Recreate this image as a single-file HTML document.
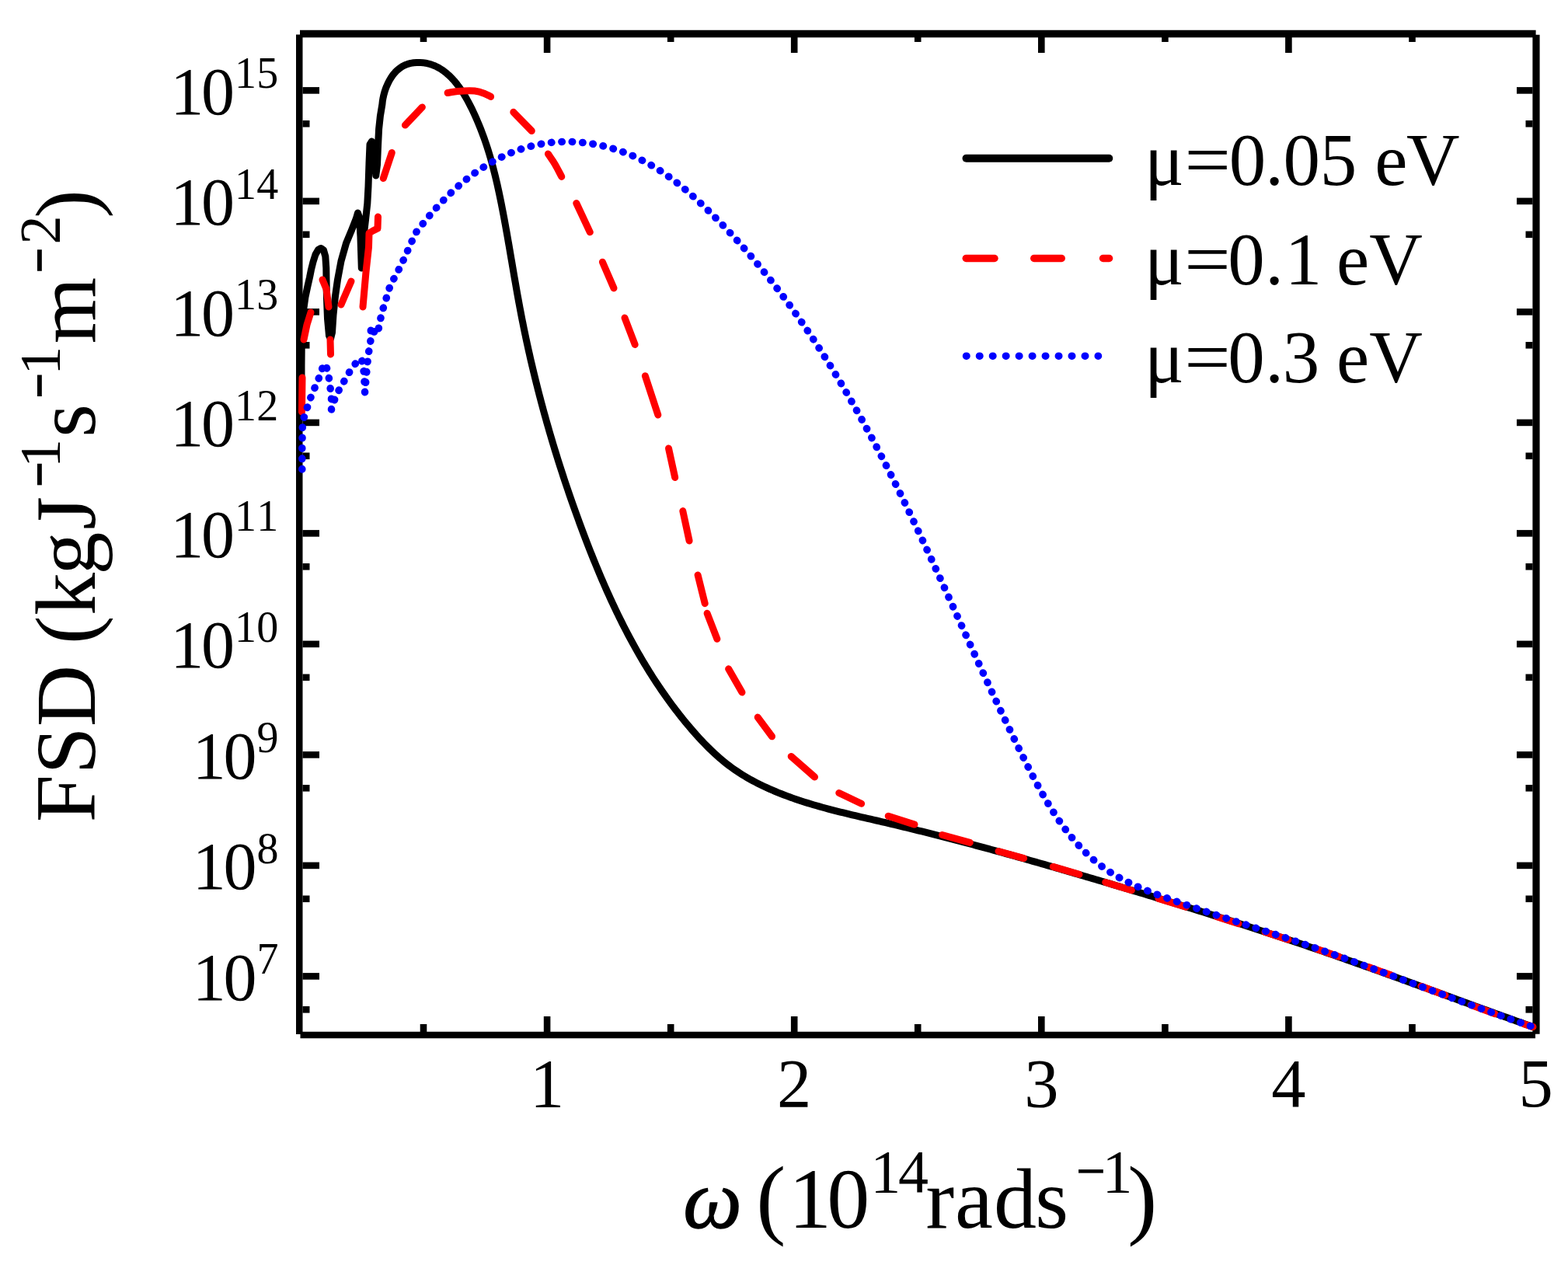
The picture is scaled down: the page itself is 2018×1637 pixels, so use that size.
<!DOCTYPE html>
<html><head><meta charset="utf-8"><title>FSD plot</title>
<style>html,body{margin:0;padding:0;background:#fff;}svg{display:block;}</style></head>
<body>
<svg xmlns="http://www.w3.org/2000/svg" width="2018" height="1637" viewBox="0 0 2018 1637">
<rect width="2018" height="1637" fill="#fff"/>
<g stroke="#000" fill="none">
<line x1="386" y1="43.5" x2="1976.6" y2="43.5" stroke-width="9.4"/>
<line x1="385.25" y1="44.6" x2="385.25" y2="1331" stroke-width="8.5"/>
<line x1="386.5" y1="1332" x2="1976" y2="1332" stroke-width="8.5"/>
<line x1="1977" y1="44.8" x2="1977" y2="1330.7" stroke-width="9.2"/>
<line x1="545.0" y1="1328" x2="545.0" y2="1318" stroke-width="8.6"/>
<line x1="545.0" y1="48" x2="545.0" y2="54" stroke-width="8.6"/>
<line x1="704.1" y1="1328" x2="704.1" y2="1308" stroke-width="8.6"/>
<line x1="704.1" y1="48" x2="704.1" y2="68" stroke-width="8.6"/>
<line x1="863.2" y1="1328" x2="863.2" y2="1318" stroke-width="8.6"/>
<line x1="863.2" y1="48" x2="863.2" y2="54" stroke-width="8.6"/>
<line x1="1022.2" y1="1328" x2="1022.2" y2="1308" stroke-width="8.6"/>
<line x1="1022.2" y1="48" x2="1022.2" y2="68" stroke-width="8.6"/>
<line x1="1181.2" y1="1328" x2="1181.2" y2="1318" stroke-width="8.6"/>
<line x1="1181.2" y1="48" x2="1181.2" y2="54" stroke-width="8.6"/>
<line x1="1340.3" y1="1328" x2="1340.3" y2="1308" stroke-width="8.6"/>
<line x1="1340.3" y1="48" x2="1340.3" y2="68" stroke-width="8.6"/>
<line x1="1499.4" y1="1328" x2="1499.4" y2="1318" stroke-width="8.6"/>
<line x1="1499.4" y1="48" x2="1499.4" y2="54" stroke-width="8.6"/>
<line x1="1658.4" y1="1328" x2="1658.4" y2="1308" stroke-width="8.6"/>
<line x1="1658.4" y1="48" x2="1658.4" y2="68" stroke-width="8.6"/>
<line x1="1817.5" y1="1328" x2="1817.5" y2="1318" stroke-width="8.6"/>
<line x1="1817.5" y1="48" x2="1817.5" y2="54" stroke-width="8.6"/>
<line x1="389.5" y1="1256.4" x2="411" y2="1256.4" stroke-width="8.6"/>
<line x1="1972.5" y1="1256.4" x2="1952" y2="1256.4" stroke-width="8.6"/>
<line x1="389.5" y1="1113.9" x2="411" y2="1113.9" stroke-width="8.6"/>
<line x1="1972.5" y1="1113.9" x2="1952" y2="1113.9" stroke-width="8.6"/>
<line x1="389.5" y1="971.4" x2="411" y2="971.4" stroke-width="8.6"/>
<line x1="1972.5" y1="971.4" x2="1952" y2="971.4" stroke-width="8.6"/>
<line x1="389.5" y1="828.9" x2="411" y2="828.9" stroke-width="8.6"/>
<line x1="1972.5" y1="828.9" x2="1952" y2="828.9" stroke-width="8.6"/>
<line x1="389.5" y1="686.4" x2="411" y2="686.4" stroke-width="8.6"/>
<line x1="1972.5" y1="686.4" x2="1952" y2="686.4" stroke-width="8.6"/>
<line x1="389.5" y1="543.9" x2="411" y2="543.9" stroke-width="8.6"/>
<line x1="1972.5" y1="543.9" x2="1952" y2="543.9" stroke-width="8.6"/>
<line x1="389.5" y1="401.4" x2="411" y2="401.4" stroke-width="8.6"/>
<line x1="1972.5" y1="401.4" x2="1952" y2="401.4" stroke-width="8.6"/>
<line x1="389.5" y1="258.9" x2="411" y2="258.9" stroke-width="8.6"/>
<line x1="1972.5" y1="258.9" x2="1952" y2="258.9" stroke-width="8.6"/>
<line x1="389.5" y1="116.4" x2="411" y2="116.4" stroke-width="8.6"/>
<line x1="1972.5" y1="116.4" x2="1952" y2="116.4" stroke-width="8.6"/>
<line x1="389.5" y1="1299.3" x2="398.5" y2="1299.3" stroke-width="8.6"/>
<line x1="1972.5" y1="1299.3" x2="1963.5" y2="1299.3" stroke-width="8.6"/>
<line x1="389.5" y1="1156.8" x2="398.5" y2="1156.8" stroke-width="8.6"/>
<line x1="1972.5" y1="1156.8" x2="1963.5" y2="1156.8" stroke-width="8.6"/>
<line x1="389.5" y1="1014.3" x2="398.5" y2="1014.3" stroke-width="8.6"/>
<line x1="1972.5" y1="1014.3" x2="1963.5" y2="1014.3" stroke-width="8.6"/>
<line x1="389.5" y1="871.8" x2="398.5" y2="871.8" stroke-width="8.6"/>
<line x1="1972.5" y1="871.8" x2="1963.5" y2="871.8" stroke-width="8.6"/>
<line x1="389.5" y1="729.3" x2="398.5" y2="729.3" stroke-width="8.6"/>
<line x1="1972.5" y1="729.3" x2="1963.5" y2="729.3" stroke-width="8.6"/>
<line x1="389.5" y1="586.8" x2="398.5" y2="586.8" stroke-width="8.6"/>
<line x1="1972.5" y1="586.8" x2="1963.5" y2="586.8" stroke-width="8.6"/>
<line x1="389.5" y1="444.3" x2="398.5" y2="444.3" stroke-width="8.6"/>
<line x1="1972.5" y1="444.3" x2="1963.5" y2="444.3" stroke-width="8.6"/>
<line x1="389.5" y1="301.8" x2="398.5" y2="301.8" stroke-width="8.6"/>
<line x1="1972.5" y1="301.8" x2="1963.5" y2="301.8" stroke-width="8.6"/>
<line x1="389.5" y1="159.3" x2="398.5" y2="159.3" stroke-width="8.6"/>
<line x1="1972.5" y1="159.3" x2="1963.5" y2="159.3" stroke-width="8.6"/>
</g>
<path d="M388.00,505.00 L388.00,470.00 L388.30,440.00 L389.00,415.00 L390.50,400.00 L393.00,382.00 L396.00,368.00 L398.50,357.00 L400.50,347.00 L403.00,337.00 L406.00,327.50 L409.50,321.50 L413.00,319.50 L416.50,322.00 L418.80,330.00 L419.80,345.00 L420.00,360.00 L420.50,385.00 L421.50,410.00 L423.50,432.00 L425.50,436.00 L427.50,428.00 L429.00,405.00 L431.50,381.00 L434.50,360.00 L439.00,336.00 L445.50,313.00 L453.00,295.00 L458.50,281.00 L460.50,274.00 L462.50,280.00 L464.00,305.00 L465.30,345.00 L466.80,330.00 L468.50,300.00 L470.50,283.00 L472.80,262.00 L474.00,240.00 L475.00,210.00 L476.00,186.00 L478.50,182.00 L481.50,200.00 L483.80,226.00 L485.50,212.00 L486.60,186.00 L487.60,166.00 L489.40,149.20 L491.90,134.30 L492.27,130.66 L492.87,126.87 L493.71,122.95 L494.78,118.97 L496.07,114.96 L497.59,110.98 L499.34,107.07 L501.31,103.27 L503.51,99.64 L505.92,96.21 L508.56,93.04 L511.41,90.17 L514.49,87.65 L517.77,85.51 L521.24,83.77 L524.87,82.40 L528.62,81.39 L532.45,80.73 L536.33,80.40 L540.23,80.38 L544.11,80.65 L547.93,81.21 L551.67,82.04 L555.30,83.12 L558.81,84.44 L562.20,85.99 L565.49,87.76 L568.67,89.74 L571.75,91.91 L574.73,94.27 L577.61,96.80 L580.39,99.49 L583.08,102.34 L585.68,105.32 L588.19,108.43 L590.62,111.66 L592.97,114.99 L595.24,118.42 L597.44,121.93 L599.56,125.52 L601.61,129.16 L603.60,132.85 L605.52,136.58 L607.39,140.34 L609.19,144.12 L610.94,147.90 L612.63,151.67 L614.28,155.45 L615.87,159.23 L617.41,163.00 L618.91,166.77 L620.36,170.55 L621.77,174.32 L623.13,178.10 L624.45,181.88 L625.74,185.65 L626.98,189.43 L628.19,193.21 L629.36,197.00 L630.49,200.78 L631.59,204.57 L632.66,208.37 L633.71,212.16 L634.72,215.96 L635.70,219.76 L636.66,223.57 L637.60,227.39 L638.51,231.20 L639.40,235.03 L640.27,238.86 L641.12,242.69 L641.96,246.54 L642.77,250.38 L643.58,254.24 L644.37,258.10 L645.15,261.97 L645.92,265.85 L646.68,269.74 L647.43,273.63 L648.17,277.53 L648.90,281.44 L649.62,285.35 L650.34,289.26 L651.05,293.19 L651.76,297.11 L652.45,301.05 L653.15,304.98 L653.84,308.92 L654.52,312.87 L655.21,316.81 L655.89,320.76 L656.56,324.72 L657.24,328.67 L657.91,332.63 L658.59,336.59 L659.26,340.55 L659.94,344.52 L660.61,348.48 L661.29,352.44 L661.97,356.41 L662.66,360.37 L663.35,364.34 L664.04,368.30 L664.73,372.26 L665.43,376.22 L666.14,380.18 L666.86,384.14 L667.58,388.10 L668.31,392.05 L669.04,396.00 L669.79,399.94 L670.54,403.89 L671.30,407.83 L672.08,411.76 L672.86,415.70 L673.65,419.62 L674.45,423.55 L675.26,427.47 L676.08,431.39 L676.90,435.31 L677.74,439.22 L678.59,443.13 L679.44,447.03 L680.31,450.94 L681.18,454.84 L682.06,458.73 L682.95,462.63 L683.85,466.52 L684.76,470.40 L685.68,474.29 L686.61,478.17 L687.54,482.05 L688.49,485.92 L689.44,489.79 L690.41,493.66 L691.38,497.53 L692.36,501.39 L693.35,505.25 L694.35,509.11 L695.36,512.96 L696.38,516.81 L697.40,520.66 L698.44,524.51 L699.48,528.35 L700.54,532.19 L701.60,536.03 L702.67,539.86 L703.75,543.70 L704.84,547.53 L705.94,551.35 L707.04,555.18 L708.16,559.00 L709.28,562.82 L710.42,566.64 L711.56,570.45 L712.71,574.26 L713.87,578.07 L715.04,581.88 L716.21,585.68 L717.40,589.49 L718.60,593.29 L719.80,597.08 L721.01,600.88 L722.23,604.67 L723.46,608.46 L724.70,612.25 L725.95,616.04 L727.20,619.82 L728.47,623.60 L729.74,627.38 L731.03,631.16 L732.32,634.94 L733.62,638.71 L734.92,642.48 L736.24,646.25 L737.57,650.02 L738.90,653.79 L740.25,657.55 L741.60,661.31 L742.96,665.07 L744.33,668.83 L745.70,672.59 L747.09,676.34 L748.49,680.09 L749.89,683.84 L751.30,687.59 L752.72,691.34 L754.15,695.08 L755.59,698.82 L757.04,702.56 L758.50,706.30 L759.97,710.03 L761.45,713.76 L762.94,717.48 L764.44,721.20 L765.96,724.92 L767.48,728.63 L769.01,732.34 L770.56,736.04 L772.12,739.74 L773.69,743.43 L775.27,747.12 L776.87,750.80 L778.47,754.47 L780.09,758.14 L781.72,761.80 L783.37,765.46 L785.03,769.11 L786.70,772.75 L788.39,776.39 L790.09,780.02 L791.80,783.64 L793.53,787.25 L795.28,790.85 L797.04,794.45 L798.81,798.04 L800.60,801.62 L802.40,805.19 L804.22,808.75 L806.06,812.30 L807.91,815.84 L809.78,819.37 L811.67,822.89 L813.57,826.41 L815.49,829.91 L817.42,833.40 L819.38,836.88 L821.35,840.35 L823.33,843.81 L825.34,847.25 L827.36,850.69 L829.41,854.11 L831.47,857.52 L833.55,860.92 L835.65,864.30 L837.77,867.68 L839.90,871.04 L842.06,874.38 L844.24,877.72 L846.43,881.04 L848.65,884.34 L850.89,887.64 L853.15,890.91 L855.43,894.18 L857.73,897.43 L860.05,900.66 L862.39,903.88 L864.75,907.08 L867.14,910.27 L869.55,913.44 L871.98,916.60 L874.43,919.73 L876.91,922.86 L879.41,925.96 L881.93,929.05 L884.47,932.13 L887.04,935.18 L889.64,938.22 L892.25,941.24 L894.89,944.24 L897.56,947.22 L900.25,950.17 L902.98,953.10 L905.73,956.00 L908.52,958.87 L911.33,961.71 L914.18,964.51 L917.06,967.27 L919.98,969.99 L922.94,972.67 L925.94,975.31 L928.97,977.90 L932.05,980.44 L935.16,982.93 L938.32,985.37 L941.53,987.75 L944.78,990.07 L948.07,992.33 L951.41,994.54 L954.79,996.69 L958.21,998.78 L961.66,1000.82 L965.15,1002.81 L968.67,1004.74 L972.22,1006.63 L975.80,1008.46 L979.41,1010.25 L983.03,1011.99 L986.68,1013.68 L990.35,1015.34 L994.04,1016.95 L997.73,1018.51 L1001.45,1020.04 L1005.17,1021.53 L1008.90,1022.98 L1012.65,1024.39 L1016.40,1025.77 L1020.16,1027.12 L1023.94,1028.43 L1027.72,1029.71 L1031.51,1030.96 L1035.31,1032.18 L1039.12,1033.38 L1042.93,1034.55 L1046.76,1035.69 L1050.59,1036.80 L1054.42,1037.90 L1058.27,1038.97 L1062.12,1040.03 L1065.97,1041.06 L1069.83,1042.08 L1073.69,1043.08 L1077.56,1044.06 L1081.44,1045.03 L1085.31,1045.99 L1089.19,1046.93 L1093.08,1047.87 L1096.96,1048.79 L1100.85,1049.71 L1104.74,1050.62 L1108.64,1051.53 L1112.53,1052.43 L1116.43,1053.32 L1120.32,1054.22 L1124.22,1055.12 L1128.11,1056.01 L1132.01,1056.91 L1135.90,1057.81 L1139.80,1058.72 L1143.69,1059.63 L1147.58,1060.55 L1151.47,1061.47 L1155.36,1062.39 L1159.25,1063.32 L1163.13,1064.26 L1167.02,1065.20 L1170.90,1066.15 L1174.78,1067.10 L1178.66,1068.05 L1182.54,1069.01 L1186.42,1069.97 L1190.30,1070.94 L1194.17,1071.91 L1198.05,1072.89 L1201.92,1073.87 L1205.79,1074.86 L1209.67,1075.85 L1213.54,1076.84 L1217.41,1077.84 L1221.27,1078.84 L1225.14,1079.84 L1229.01,1080.85 L1232.87,1081.87 L1236.74,1082.88 L1240.60,1083.91 L1244.46,1084.93 L1248.32,1085.96 L1252.18,1086.99 L1256.04,1088.03 L1259.90,1089.07 L1263.76,1090.11 L1267.62,1091.15 L1271.47,1092.20 L1275.33,1093.26 L1279.18,1094.31 L1283.03,1095.37 L1286.89,1096.43 L1290.74,1097.50 L1294.59,1098.57 L1298.44,1099.64 L1302.29,1100.71 L1306.14,1101.79 L1309.98,1102.87 L1313.83,1103.95 L1317.68,1105.03 L1321.52,1106.12 L1325.37,1107.21 L1329.21,1108.30 L1333.06,1109.40 L1336.90,1110.50 L1340.74,1111.60 L1344.58,1112.70 L1348.42,1113.80 L1352.26,1114.91 L1356.10,1116.02 L1359.94,1117.13 L1363.78,1118.24 L1367.62,1119.36 L1371.46,1120.48 L1375.30,1121.60 L1379.13,1122.72 L1382.97,1123.84 L1386.80,1124.96 L1390.64,1126.09 L1394.47,1127.22 L1398.31,1128.35 L1402.14,1129.48 L1405.98,1130.61 L1409.81,1131.74 L1413.64,1132.88 L1417.47,1134.01 L1421.31,1135.15 L1425.14,1136.29 L1428.97,1137.43 L1432.80,1138.57 L1436.63,1139.71 L1440.46,1140.86 L1444.29,1142.00 L1448.12,1143.15 L1451.95,1144.30 L1455.78,1145.45 L1459.61,1146.60 L1463.44,1147.75 L1467.26,1148.91 L1471.09,1150.06 L1474.92,1151.22 L1478.74,1152.38 L1482.57,1153.54 L1486.39,1154.70 L1490.22,1155.87 L1494.04,1157.04 L1497.86,1158.20 L1501.69,1159.37 L1505.51,1160.54 L1509.33,1161.72 L1513.15,1162.89 L1516.97,1164.07 L1520.79,1165.25 L1524.61,1166.43 L1528.43,1167.61 L1532.25,1168.80 L1536.06,1169.98 L1539.88,1171.17 L1543.70,1172.36 L1547.51,1173.56 L1551.33,1174.75 L1555.14,1175.95 L1558.95,1177.15 L1562.76,1178.35 L1566.58,1179.56 L1570.39,1180.76 L1574.20,1181.97 L1578.01,1183.18 L1581.81,1184.40 L1585.62,1185.61 L1589.43,1186.83 L1593.24,1188.05 L1597.04,1189.27 L1600.85,1190.50 L1604.65,1191.73 L1608.45,1192.96 L1612.25,1194.19 L1616.05,1195.43 L1619.85,1196.67 L1623.65,1197.91 L1627.45,1199.15 L1631.25,1200.40 L1635.05,1201.65 L1638.84,1202.90 L1642.64,1204.15 L1646.43,1205.41 L1650.22,1206.67 L1654.02,1207.93 L1657.81,1209.20 L1661.60,1210.47 L1665.38,1211.74 L1669.17,1213.01 L1672.96,1214.29 L1676.74,1215.57 L1680.53,1216.86 L1684.31,1218.14 L1688.10,1219.43 L1691.88,1220.73 L1695.66,1222.02 L1699.44,1223.32 L1703.21,1224.62 L1706.99,1225.93 L1710.77,1227.24 L1714.54,1228.55 L1718.32,1229.86 L1722.09,1231.18 L1725.86,1232.50 L1729.63,1233.82 L1733.40,1235.15 L1737.17,1236.48 L1740.94,1237.81 L1744.71,1239.14 L1748.48,1240.47 L1752.24,1241.81 L1756.01,1243.15 L1759.77,1244.49 L1763.54,1245.83 L1767.30,1247.18 L1771.06,1248.53 L1774.82,1249.87 L1778.59,1251.22 L1782.35,1252.58 L1786.11,1253.93 L1789.87,1255.28 L1793.63,1256.64 L1797.38,1258.00 L1801.14,1259.36 L1804.90,1260.72 L1808.66,1262.08 L1812.42,1263.44 L1816.17,1264.80 L1819.93,1266.17 L1823.69,1267.53 L1827.44,1268.90 L1831.20,1270.27 L1834.95,1271.63 L1838.71,1273.00 L1842.46,1274.37 L1846.22,1275.74 L1849.98,1277.10 L1853.73,1278.47 L1857.49,1279.84 L1861.24,1281.21 L1865.00,1282.58 L1868.75,1283.95 L1872.50,1285.32 L1876.26,1286.69 L1880.02,1288.05 L1883.77,1289.42 L1887.53,1290.79 L1891.28,1292.16 L1895.04,1293.52 L1898.79,1294.89 L1902.55,1296.25 L1906.31,1297.62 L1910.06,1298.98 L1913.82,1300.34 L1917.58,1301.70 L1921.34,1303.07 L1925.09,1304.42 L1928.85,1305.78 L1932.61,1307.14 L1936.37,1308.49 L1940.13,1309.85 L1943.89,1311.20 L1947.65,1312.55 L1951.41,1313.90 L1955.18,1315.25 L1958.94,1316.59 L1962.70,1317.94 L1966.47,1319.28 L1970.23,1320.62 L1974.00,1321.95" fill="none" stroke="#000" stroke-width="9.0" stroke-linejoin="round" stroke-linecap="round"/>
<g fill="none" stroke="#f00" stroke-width="9" stroke-linecap="round" stroke-linejoin="round">
<polyline points="388.5,530.0 389.0,486.0"/>
<polyline points="391.0,437.0 395.0,418.0 400.0,402.0"/>
<polyline points="415.0,360.0 420.0,372.0 423.0,395.0"/>
<polyline points="425.0,437.0 425.5,456.0"/>
<polyline points="439.0,392.0 445.0,378.0 452.0,362.0"/>
<polyline points="467.0,395.0 471.0,350.0 474.5,318.0 475.0,300.0 480.0,297.0 486.0,294.0 486.5,279.0"/>
<polyline points="493.3,229.5 504.3,196.5"/>
<polyline points="521.4,161.1 543.4,137.9"/>
<path d="M576.10,119.50 C580.40,118.83 584.12,117.93 589.00,117.50 C595.30,116.94 604.53,116.24 610.80,117.00 C615.71,117.60 619.98,119.09 623.70,120.50 C626.72,121.64 628.97,123.10 631.60,124.40"/>
<polyline points="660.8,144.3 684.3,168.5"/>
<path d="M705.40,198.10 C708.27,202.40 711.22,206.37 714.00,211.00 C717.04,216.07 719.87,221.93 722.80,227.40"/>
<polyline points="741.8,261.5 759.3,298.8"/>
<polyline points="775.4,337.2 790.0,370.9"/>
<polyline points="804.0,409.0 817.2,443.5"/>
<polyline points="830.4,483.8 846.8,533.9"/>
<polyline points="860.5,577.0 868.7,614.5"/>
<polyline points="878.8,657.6 887.1,696.0"/>
<polyline points="898.1,740.0 907.2,776.7"/>
<polyline points="910.1,789.3 922.9,822.3"/>
<polyline points="937.6,860.8 955.0,891.0"/>
<polyline points="975.2,923.1 993.5,947.8"/>
<polyline points="1018.2,973.5 1048.5,1000.0"/>
<polyline points="1079.8,1020.5 1108.6,1034.3"/>
<polyline points="1143.2,1050.2 1177.0,1061.1"/>
<polyline points="1212.6,1074.5 1248.3,1084.4"/>
<polyline points="1285.0,1095.5 1317.7,1104.6"/>
<polyline points="1355.3,1115.4 1389.0,1125.3"/>
<polyline points="1422.7,1135.5 1456.4,1145.8"/>
<polyline points="1491.0,1156.4 1526.0,1167.3"/>
<polyline points="1566.0,1179.8 1594.0,1188.7"/>
<polyline points="1628.0,1199.5 1658.0,1209.3"/>
<polyline points="1695.0,1221.5 1723.0,1231.1"/>
<polyline points="1762.0,1244.7 1790.0,1254.8"/>
<polyline points="1829.0,1269.2 1860.0,1280.9"/>
<polyline points="1893.0,1293.4 1924.0,1304.8"/>
<polyline points="1961.0,1317.7 1973.0,1321.6"/>
</g>
<path d="M388.80,604.00 L388.80,575.00 L389.30,550.00 L391.00,538.00 L394.30,527.70 L399.30,513.00 L405.00,499.30 L410.80,485.60 L415.50,472.00 L418.50,468.00 L422.00,478.00 L424.50,494.00 L426.50,512.00 L426.50,527.00 L431.00,513.00 L437.70,499.00 L444.90,487.30 L451.50,475.70 L460.80,463.60 L465.50,462.00 L468.50,480.00 L469.60,505.00 L471.50,482.00 L474.00,456.00 L476.80,441.00 L477.50,420.00 L482.00,428.00 L486.00,430.00 L488.90,413.70 L492.70,398.30 L497.10,384.00 L502.00,368.00 L509.20,354.30 L515.80,342.20 L524.00,324.00 L534.81,300.01 L537.17,296.91 L539.55,293.82 L541.98,290.74 L544.43,287.65 L546.92,284.58 L549.44,281.52 L551.99,278.46 L554.58,275.43 L557.20,272.40 L559.86,269.40 L562.55,266.41 L565.28,263.45 L568.03,260.51 L570.83,257.60 L573.66,254.72 L576.52,251.87 L579.42,249.05 L582.35,246.26 L585.32,243.51 L588.33,240.80 L591.37,238.13 L594.45,235.50 L597.56,232.92 L600.72,230.39 L603.90,227.90 L607.13,225.46 L610.39,223.08 L613.69,220.75 L617.02,218.48 L620.39,216.27 L623.79,214.11 L627.22,212.01 L630.68,209.97 L634.18,208.00 L637.70,206.08 L641.26,204.24 L644.84,202.45 L648.45,200.74 L652.08,199.09 L655.74,197.51 L659.43,196.00 L663.14,194.57 L666.87,193.21 L670.62,191.92 L674.40,190.71 L678.19,189.57 L682.01,188.52 L685.84,187.54 L689.69,186.64 L693.56,185.83 L697.44,185.10 L701.34,184.45 L705.25,183.89 L709.18,183.42 L713.11,183.04 L717.06,182.74 L721.02,182.52 L724.98,182.39 L728.95,182.34 L732.92,182.38 L736.89,182.49 L740.87,182.69 L744.84,182.97 L748.81,183.32 L752.78,183.75 L756.74,184.26 L760.69,184.85 L764.63,185.51 L768.57,186.25 L772.49,187.06 L776.40,187.94 L780.29,188.90 L784.16,189.92 L788.02,191.02 L791.86,192.18 L795.67,193.42 L799.46,194.72 L803.23,196.09 L806.97,197.52 L810.68,199.02 L814.37,200.58 L818.02,202.21 L821.64,203.90 L825.22,205.65 L828.77,207.46 L832.28,209.33 L835.76,211.26 L839.20,213.25 L842.60,215.29 L845.98,217.38 L849.32,219.52 L852.63,221.71 L855.91,223.95 L859.16,226.23 L862.39,228.56 L865.58,230.93 L868.75,233.33 L871.89,235.78 L875.00,238.26 L878.09,240.78 L881.16,243.33 L884.21,245.91 L887.23,248.52 L890.23,251.16 L893.21,253.82 L896.18,256.51 L899.12,259.22 L902.05,261.94 L904.96,264.69 L907.85,267.46 L910.73,270.24 L913.59,273.03 L916.44,275.84 L919.28,278.66 L922.10,281.49 L924.91,284.33 L927.70,287.19 L930.49,290.06 L933.25,292.95 L936.01,295.84 L938.75,298.75 L941.47,301.67 L944.19,304.60 L946.89,307.55 L949.57,310.50 L952.25,313.47 L954.91,316.45 L957.56,319.44 L960.19,322.44 L962.81,325.45 L965.42,328.48 L968.02,331.51 L970.60,334.56 L973.17,337.62 L975.73,340.69 L978.28,343.76 L980.81,346.85 L983.34,349.95 L985.85,353.06 L988.34,356.18 L990.83,359.31 L993.30,362.45 L995.76,365.60 L998.21,368.76 L1000.65,371.93 L1003.08,375.11 L1005.49,378.30 L1007.90,381.49 L1010.29,384.70 L1012.67,387.92 L1015.04,391.14 L1017.40,394.37 L1019.74,397.61 L1022.08,400.86 L1024.41,404.12 L1026.72,407.39 L1029.02,410.67 L1031.31,413.95 L1033.60,417.24 L1035.87,420.54 L1038.13,423.85 L1040.38,427.16 L1042.62,430.49 L1044.85,433.82 L1047.07,437.15 L1049.27,440.50 L1051.47,443.85 L1053.66,447.21 L1055.84,450.58 L1058.01,453.95 L1060.17,457.33 L1062.32,460.71 L1064.46,464.11 L1066.59,467.50 L1068.71,470.91 L1070.82,474.32 L1072.92,477.74 L1075.01,481.16 L1077.09,484.59 L1079.17,488.02 L1081.23,491.47 L1083.29,494.91 L1085.33,498.36 L1087.37,501.82 L1089.40,505.28 L1091.42,508.75 L1093.43,512.22 L1095.44,515.69 L1097.43,519.17 L1099.42,522.66 L1101.39,526.15 L1103.36,529.64 L1105.33,533.14 L1107.28,536.65 L1109.22,540.15 L1111.16,543.66 L1113.09,547.18 L1115.01,550.70 L1116.93,554.22 L1118.83,557.74 L1120.73,561.27 L1122.62,564.80 L1124.50,568.34 L1126.38,571.87 L1128.25,575.42 L1130.11,578.96 L1131.97,582.50 L1133.81,586.05 L1135.65,589.61 L1137.49,593.16 L1139.31,596.71 L1141.13,600.27 L1142.95,603.83 L1144.75,607.40 L1146.55,610.96 L1148.35,614.53 L1150.14,618.10 L1151.92,621.67 L1153.70,625.25 L1155.47,628.82 L1157.23,632.40 L1159.00,635.98 L1160.75,639.57 L1162.50,643.15 L1164.25,646.74 L1165.99,650.33 L1167.72,653.92 L1169.45,657.51 L1171.18,661.10 L1172.90,664.70 L1174.62,668.30 L1176.33,671.90 L1178.04,675.50 L1179.75,679.10 L1181.45,682.70 L1183.15,686.31 L1184.84,689.92 L1186.53,693.53 L1188.22,697.14 L1189.90,700.75 L1191.59,704.36 L1193.26,707.98 L1194.94,711.59 L1196.61,715.21 L1198.28,718.83 L1199.95,722.45 L1201.62,726.07 L1203.28,729.69 L1204.94,733.31 L1206.60,736.94 L1208.26,740.56 L1209.92,744.19 L1211.57,747.82 L1213.22,751.44 L1214.88,755.07 L1216.53,758.70 L1218.18,762.33 L1219.82,765.97 L1221.47,769.60 L1223.12,773.23 L1224.77,776.87 L1226.41,780.50 L1228.06,784.13 L1229.70,787.77 L1231.35,791.41 L1232.99,795.04 L1234.64,798.68 L1236.28,802.32 L1237.93,805.96 L1239.58,809.60 L1241.22,813.23 L1242.87,816.87 L1244.52,820.51 L1246.17,824.15 L1247.82,827.79 L1249.48,831.43 L1251.13,835.07 L1252.78,838.71 L1254.44,842.35 L1256.10,846.00 L1257.76,849.64 L1259.42,853.28 L1261.09,856.92 L1262.76,860.56 L1264.42,864.20 L1266.10,867.84 L1267.77,871.48 L1269.45,875.12 L1271.13,878.76 L1272.81,882.40 L1274.50,886.03 L1276.19,889.67 L1277.88,893.31 L1279.58,896.95 L1281.28,900.59 L1282.98,904.22 L1284.69,907.86 L1286.40,911.49 L1288.11,915.13 L1289.83,918.76 L1291.56,922.40 L1293.29,926.03 L1295.02,929.66 L1296.76,933.29 L1298.50,936.92 L1300.25,940.55 L1302.00,944.18 L1303.76,947.81 L1305.52,951.44 L1307.29,955.06 L1309.06,958.69 L1310.84,962.31 L1312.63,965.93 L1314.42,969.55 L1316.22,973.17 L1318.02,976.79 L1319.84,980.41 L1321.65,984.02 L1323.48,987.63 L1325.32,991.23 L1327.17,994.83 L1329.03,998.42 L1330.91,1001.99 L1332.80,1005.56 L1334.70,1009.11 L1336.62,1012.65 L1338.56,1016.18 L1340.52,1019.69 L1342.50,1023.18 L1344.49,1026.65 L1346.51,1030.10 L1348.55,1033.53 L1350.62,1036.94 L1352.71,1040.33 L1354.83,1043.69 L1356.97,1047.02 L1359.14,1050.33 L1361.34,1053.61 L1363.57,1056.85 L1365.83,1060.07 L1368.12,1063.25 L1370.45,1066.40 L1372.81,1069.52 L1375.20,1072.60 L1377.63,1075.64 L1380.10,1078.64 L1382.61,1081.60 L1385.15,1084.52 L1387.74,1087.40 L1390.36,1090.23 L1393.03,1093.02 L1395.75,1095.76 L1398.51,1098.45 L1401.31,1101.10 L1404.16,1103.69 L1407.06,1106.23 L1410.00,1108.72 L1413.00,1111.16 L1416.05,1113.54 L1419.14,1115.86 L1422.30,1118.13 L1425.50,1120.33 L1428.76,1122.48 L1432.08,1124.56 L1435.44,1126.59 L1438.86,1128.56 L1442.32,1130.48 L1445.83,1132.35 L1449.38,1134.17 L1452.96,1135.94 L1456.59,1137.67 L1460.24,1139.35 L1463.93,1141.00 L1467.65,1142.61 L1471.39,1144.19 L1475.15,1145.73 L1478.94,1147.24 L1482.74,1148.73 L1486.56,1150.19 L1490.39,1151.63 L1494.23,1153.05 L1498.07,1154.45 L1501.92,1155.84 L1505.77,1157.22 L1509.62,1158.58 L1513.47,1159.93 L1517.31,1161.28 L1521.15,1162.61 L1524.99,1163.94 L1528.83,1165.27 L1532.66,1166.58 L1536.50,1167.89 L1540.33,1169.19 L1544.15,1170.48 L1547.98,1171.77 L1551.80,1173.05 L1555.62,1174.33 L1559.44,1175.61 L1563.25,1176.87 L1567.07,1178.14 L1570.88,1179.40 L1574.69,1180.66 L1578.49,1181.91 L1582.30,1183.16 L1586.10,1184.41 L1589.90,1185.66 L1593.70,1186.90 L1597.50,1188.14 L1601.30,1189.39 L1605.09,1190.63 L1608.88,1191.87 L1612.67,1193.11 L1616.46,1194.35 L1620.25,1195.59 L1624.04,1196.84 L1627.82,1198.08 L1631.61,1199.33 L1635.39,1200.57 L1639.17,1201.82 L1642.95,1203.08 L1646.73,1204.33 L1650.50,1205.59 L1654.28,1206.85 L1658.05,1208.12 L1661.83,1209.39 L1665.60,1210.67 L1669.37,1211.95 L1673.14,1213.24 L1676.91,1214.53 L1680.68,1215.82 L1684.45,1217.12 L1688.22,1218.43 L1691.98,1219.74 L1695.75,1221.06 L1699.52,1222.38 L1703.28,1223.70 L1707.04,1225.03 L1710.81,1226.36 L1714.57,1227.70 L1718.33,1229.04 L1722.09,1230.39 L1725.85,1231.73 L1729.61,1233.09 L1733.37,1234.44 L1737.13,1235.80 L1740.89,1237.16 L1744.65,1238.52 L1748.41,1239.89 L1752.16,1241.26 L1755.92,1242.63 L1759.68,1244.00 L1763.43,1245.38 L1767.19,1246.76 L1770.94,1248.14 L1774.70,1249.52 L1778.45,1250.90 L1782.21,1252.29 L1785.96,1253.67 L1789.72,1255.06 L1793.47,1256.45 L1797.23,1257.84 L1800.98,1259.23 L1804.73,1260.62 L1808.49,1262.02 L1812.24,1263.41 L1816.00,1264.80 L1819.75,1266.20 L1823.50,1267.59 L1827.26,1268.98 L1831.01,1270.38 L1834.77,1271.77 L1838.52,1273.16 L1842.28,1274.56 L1846.03,1275.95 L1849.79,1277.34 L1853.54,1278.73 L1857.30,1280.12 L1861.05,1281.51 L1864.81,1282.89 L1868.57,1284.28 L1872.32,1285.66 L1876.08,1287.05 L1879.84,1288.43 L1883.60,1289.80 L1887.36,1291.18 L1891.12,1292.55 L1894.88,1293.93 L1898.64,1295.29 L1902.40,1296.66 L1906.16,1298.02 L1909.92,1299.39 L1913.68,1300.74 L1917.45,1302.10 L1921.21,1303.45 L1924.98,1304.80 L1928.74,1306.14 L1932.51,1307.48 L1936.28,1308.82 L1940.04,1310.15 L1943.81,1311.48 L1947.58,1312.81 L1951.35,1314.13 L1955.13,1315.44 L1958.90,1316.76 L1962.67,1318.06 L1966.45,1319.36 L1970.22,1320.66 L1974.00,1321.95" fill="none" stroke="#00f" stroke-width="9.5" stroke-linecap="round" stroke-linejoin="round" stroke-dasharray="0.5 12.9"/>
<line x1="1243.5" y1="203.7" x2="1427.3" y2="203.7" stroke="#000" stroke-width="10" stroke-linecap="round"/>
<g stroke="#f00" stroke-width="9.5" stroke-linecap="round">
<line x1="1243.25" y1="332.5" x2="1279.95" y2="332.5"/>
<line x1="1330.75" y1="332.5" x2="1366.25" y2="332.5"/>
<line x1="1419.55" y1="332.5" x2="1427.55" y2="332.5"/>
</g>
<line x1="1243.5" y1="458.2" x2="1413.5" y2="458.2" stroke="#00f" stroke-width="9.5" stroke-linecap="round" stroke-dasharray="0.5 16.47"/>
<g font-family="Liberation Serif, Times New Roman, serif">
<text x="1473.00" y="238.20" font-size="95" >μ</text>
<text transform="translate(1529.80,238.2) scale(1.11,1)" x="-4.73" y="0" font-size="95">=</text>
<text x="1581.78" y="238.20" font-size="95" >0</text>
<text x="1628.14" y="238.20" font-size="95" >.</text>
<text x="1651.58" y="238.20" font-size="95" >0</text>
<text x="1698.68" y="238.20" font-size="95" >5</text>
<text x="1769.19" y="238.20" font-size="95" >e</text>
<text x="1809.93" y="238.20" font-size="95" >V</text>
<text x="1473.10" y="365.50" font-size="95" >μ</text>
<text transform="translate(1529.40,365.5) scale(1.11,1)" x="-4.73" y="0" font-size="95">=</text>
<text x="1580.28" y="365.50" font-size="95" >0</text>
<text x="1628.14" y="365.50" font-size="95" >.</text>
<text x="1653.85" y="365.50" font-size="95" >1</text>
<text x="1719.89" y="365.50" font-size="95" >e</text>
<text x="1762.23" y="365.50" font-size="95" >V</text>
<text x="1473.10" y="491.60" font-size="95" >μ</text>
<text transform="translate(1529.40,491.6) scale(1.11,1)" x="-4.73" y="0" font-size="95">=</text>
<text x="1580.28" y="491.60" font-size="95" >0</text>
<text x="1628.14" y="491.60" font-size="95" >.</text>
<text x="1650.65" y="491.60" font-size="95" >3</text>
<text x="1719.89" y="491.60" font-size="95" >e</text>
<text x="1762.23" y="491.60" font-size="95" >V</text>
</g>
<g font-family="Liberation Serif, Times New Roman, serif">
<text x="247.74" y="1286.80" font-size="86" >1</text>
<text x="287.62" y="1286.80" font-size="86" >0</text>
<text x="330.6" y="1253.10" font-size="56">7</text>
<text x="247.74" y="1144.30" font-size="86" >1</text>
<text x="287.62" y="1144.30" font-size="86" >0</text>
<text x="330.6" y="1110.60" font-size="56">8</text>
<text x="247.74" y="1001.80" font-size="86" >1</text>
<text x="287.62" y="1001.80" font-size="86" >0</text>
<text x="330.6" y="968.10" font-size="56">9</text>
<text x="219.24" y="859.30" font-size="86" >1</text>
<text x="259.12" y="859.30" font-size="86" >0</text>
<text x="302.1" y="825.60" font-size="56">1</text>
<text x="330.2" y="825.60" font-size="56">0</text>
<text x="219.24" y="716.80" font-size="86" >1</text>
<text x="259.12" y="716.80" font-size="86" >0</text>
<text x="302.1" y="683.10" font-size="56">1</text>
<text x="330.2" y="683.10" font-size="56">1</text>
<text x="219.24" y="574.30" font-size="86" >1</text>
<text x="259.12" y="574.30" font-size="86" >0</text>
<text x="302.1" y="540.60" font-size="56">1</text>
<text x="330.2" y="540.60" font-size="56">2</text>
<text x="219.24" y="431.80" font-size="86" >1</text>
<text x="259.12" y="431.80" font-size="86" >0</text>
<text x="302.1" y="398.10" font-size="56">1</text>
<text x="330.2" y="398.10" font-size="56">3</text>
<text x="219.24" y="289.30" font-size="86" >1</text>
<text x="259.12" y="289.30" font-size="86" >0</text>
<text x="302.1" y="255.60" font-size="56">1</text>
<text x="330.2" y="255.60" font-size="56">4</text>
<text x="219.24" y="146.80" font-size="86" >1</text>
<text x="259.12" y="146.80" font-size="86" >0</text>
<text x="302.1" y="113.10" font-size="56">1</text>
<text x="330.2" y="113.10" font-size="56">5</text>
<text x="704.1" y="1423.9" font-size="88.5" text-anchor="middle">1</text>
<text x="1022.2" y="1423.9" font-size="88.5" text-anchor="middle">2</text>
<text x="1340.3" y="1423.9" font-size="88.5" text-anchor="middle">3</text>
<text x="1658.4" y="1423.9" font-size="88.5" text-anchor="middle">4</text>
<text x="1976.5" y="1423.9" font-size="88.5" text-anchor="middle">5</text>
</g>
<g font-family="Liberation Serif, Times New Roman, serif">
<text x="879.25" y="1579.50" font-size="107" font-style="italic" stroke="#000" stroke-width="1.3">ω</text>
<text x="973.19" y="1580.30" font-size="114" >(</text>
<text x="1014.93" y="1579.80" font-size="110" >1</text>
<text x="1064.21" y="1579.80" font-size="110" >0</text>
<text x="1120.14" y="1533.50" font-size="78" >1</text>
<text x="1156.08" y="1533.50" font-size="78" >4</text>
<text x="1191.60" y="1579.80" font-size="110" >r</text>
<text x="1229.03" y="1579.80" font-size="110" >a</text>
<text x="1279.03" y="1579.80" font-size="110" >d</text>
<text x="1332.29" y="1579.80" font-size="110" >s</text>
<text transform="translate(1403.70,1507.70) scale(0.876,1.18)" x="-22.03" y="25.90" font-size="78" >−</text>
<text x="1418.44" y="1533.50" font-size="78" >1</text>
<text x="1451.23" y="1580.30" font-size="114" >)</text>
<g transform="translate(121.5,1057) rotate(-90)">
<text x="-1.37" y="0.00" font-size="110" >F</text>
<text x="60.64" y="0.00" font-size="110" >S</text>
<text x="121.83" y="0.00" font-size="110" >D</text>
<text x="227.97" y="0.00" font-size="110" >(</text>
<text x="264.91" y="0.00" font-size="110" >k</text>
<text x="317.27" y="0.00" font-size="110" >g</text>
<text x="375.19" y="0.00" font-size="110" >J</text>
<text x="494.19" y="0.00" font-size="110" >s</text>
<text x="614.69" y="0.00" font-size="110" >m</text>
<text x="776.26" y="0.00" font-size="110" >)</text>
<text transform="translate(446.45,-71.00) scale(0.8,1.6)" x="-20.90" y="24.57" font-size="74" >−</text>
<text transform="translate(560.75,-71.00) scale(0.8,1.6)" x="-20.90" y="24.57" font-size="74" >−</text>
<text transform="translate(721.85,-71.00) scale(0.8,1.6)" x="-20.90" y="24.57" font-size="74" >−</text>
<text x="454.97" y="-44.30" font-size="74" >1</text>
<text x="574.22" y="-44.30" font-size="74" >1</text>
<text x="742.62" y="-44.30" font-size="74" >2</text>
</g></g>
</svg>
</body></html>
